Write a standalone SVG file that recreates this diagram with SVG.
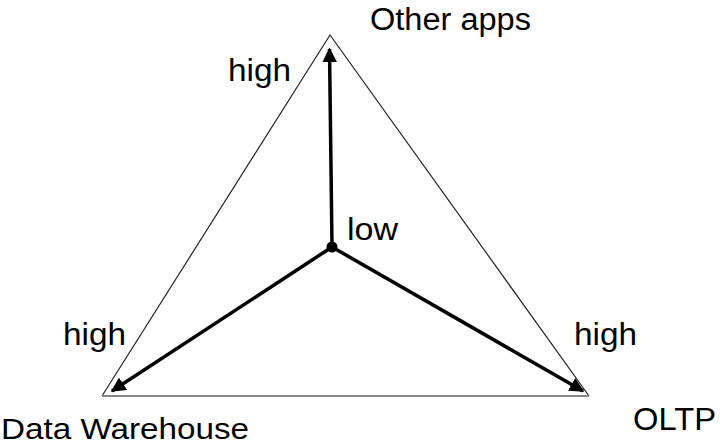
<svg xmlns="http://www.w3.org/2000/svg" width="720" height="446" viewBox="0 0 720 446">
<style>
.t{font-family:"Liberation Sans",Arial,Helvetica,sans-serif;font-size:31px;fill:#000}
.side{fill:none;stroke:#222;stroke-width:1.2}
.base{stroke:#888;stroke-width:2.2}
.arr{stroke:#000;stroke-width:3.5;fill:none;marker-end:url(#ah)}
</style>
<defs>
<marker id="ah" viewBox="0 0 10 10" refX="9" refY="5" markerWidth="4.2" markerHeight="4.2" orient="auto" markerUnits="strokeWidth">
<path d="M0,0 L10,5 L0,10 Z" fill="#000"/>
</marker>
</defs>
<g id="triangle">
<polyline class="side" points="102,396 330,35 589,396"/>
<line class="base" x1="102" y1="396" x2="589" y2="396"/>
</g>
<g id="connectors">
<line class="arr" x1="332" y1="247" x2="329.5" y2="49"/>
<line class="arr" x1="332" y1="247" x2="112" y2="391"/>
<line class="arr" x1="332" y1="247" x2="583" y2="391"/>
</g>
<g id="center">
<circle cx="332" cy="247" r="5.5" fill="#000"/>
<text class="t" x="347" y="240" textLength="51" lengthAdjust="spacingAndGlyphs">low</text>
</g>
<g id="node-other-apps">
<text class="t" x="370" y="30" textLength="161" lengthAdjust="spacingAndGlyphs">Other apps</text>
<text class="t" x="228" y="81" textLength="63" lengthAdjust="spacingAndGlyphs">high</text>
</g>
<g id="node-data-warehouse">
<text class="t" x="1" y="439" style="font-size:30px" textLength="248" lengthAdjust="spacingAndGlyphs">Data Warehouse</text>
<text class="t" x="63" y="345" textLength="63" lengthAdjust="spacingAndGlyphs">high</text>
</g>
<g id="node-oltp">
<text class="t" x="633" y="430" textLength="83" lengthAdjust="spacingAndGlyphs">OLTP</text>
<text class="t" x="574" y="345" textLength="63" lengthAdjust="spacingAndGlyphs">high</text>
</g>
</svg>
